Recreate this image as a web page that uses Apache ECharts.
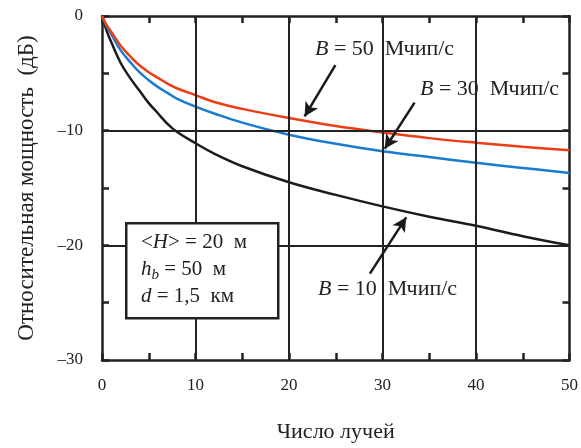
<!DOCTYPE html>
<html><head><meta charset="utf-8">
<script src="https://cdn.jsdelivr.net/npm/echarts@6/dist/echarts.min.js"></script>
<style>html,body{margin:0;padding:0;background:#fff}#c{width:581px;height:448px}</style>
</head><body><div id="c"></div>
<script>
var xs     = [0, 0.5, 1, 2, 3, 4, 5, 6, 7, 8, 10, 12, 15, 20, 25, 30, 35, 40, 45, 50];
var b10    = [0, -1.3, -2.3, -4.1, -5.4, -6.5, -7.6, -8.5, -9.4, -10.1, -11.1, -12.0, -13.1, -14.5, -15.6, -16.6, -17.5, -18.3, -19.2, -20.0];
var b30    = [0, -0.9, -1.6, -3.0, -4.0, -4.9, -5.6, -6.2, -6.7, -7.2, -7.9, -8.5, -9.3, -10.35, -11.15, -11.8, -12.3, -12.8, -13.25, -13.7];
var b50    = [0, -0.8, -1.4, -2.6, -3.5, -4.3, -4.9, -5.4, -5.9, -6.3, -6.9, -7.5, -8.1, -8.9, -9.6, -10.15, -10.65, -11.05, -11.4, -11.7];
var xGrid  = [10, 20, 30, 40];
var yGrid  = [-10, -20];
var arrows = [
  [[24.96, -4.29], [21.67, -8.76]],
  [[33.43, -7.55], [30.24, -11.58]],
  [[28.65, -22.47], [32.54, -17.56]]
];
var xName = 'Число лучей';
var yName = 'Относительная мощность  (дБ)';

function pairs(v){ return xs.map(function(x,i){ return [x, v[i]]; }); }
var FONT = '"Liberation Serif", "Times New Roman", serif';
var INK = '#222';
var chart = echarts.init(document.getElementById('c'));
function major(v){ return v % 10 === 0 ? String(v).replace('-', '–') : ''; }
var baseAxis = {
  type: 'value', min: 0, max: 50, interval: 5,
  axisLine: {show: true, onZero: false, lineStyle: {color: INK, width: 2.5}},
  axisTick: {show: true, inside: true, length: 7, lineStyle: {color: INK, width: 2.5}},
  splitLine: {show: false},
  axisLabel: {show: false}
};
var labelStyle = {color: INK, fontFamily: FONT, fontSize: 17, formatter: major, showMinLabel: true, showMaxLabel: true};
chart.setOption({
  animation: false,
  grid: {left: 102, right: 8, top: 16, bottom: 86, containLabel: false},
  xAxis: [
    Object.assign({}, baseAxis, {
      position: 'bottom',
      axisLabel: Object.assign({}, labelStyle, {margin: 17}),
      name: xName, nameLocation: 'middle', nameGap: 61,
      nameTextStyle: {color: INK, fontFamily: FONT, fontSize: 22}
    }),
    Object.assign({}, baseAxis, {position: 'top'})
  ],
  yAxis: [
    Object.assign({}, baseAxis, {
      min: -30, max: 0, position: 'left',
      axisLabel: Object.assign({}, labelStyle, {margin: 19, padding: [4, 0, 0, 0]}),
      name: yName, nameLocation: 'middle', nameGap: 64,
      nameTextStyle: {color: INK, fontFamily: FONT, fontSize: 23}
    }),
    Object.assign({}, baseAxis, {min: -30, max: 0, position: 'right'})
  ],
  series: [
    {type: 'line', data: [], silent: true,
      markLine: {
        silent: true, symbol: ['none', 'none'], label: {show: false},
        lineStyle: {color: INK, width: 2, type: 'solid'},
        data: xGrid.map(function(v){ return {xAxis: v}; }).concat(yGrid.map(function(v){ return {yAxis: v}; }))
      }, z: 1},
    {type: 'line', data: pairs(b10), smooth: 0.4, showSymbol: false, lineStyle: {color: '#1c1c1c', width: 2.5}, z: 3},
    {type: 'line', data: pairs(b30), smooth: 0.4, showSymbol: false, lineStyle: {color: '#1a7bd0', width: 2.5}, z: 3},
    {type: 'line', data: pairs(b50), smooth: 0.4, showSymbol: false, lineStyle: {color: '#ec3e14', width: 2.5}, z: 3,
      markLine: {
        silent: true, symbol: ['none', 'arrow'], symbolSize: [11, 14],
        label: {show: false},
        lineStyle: {color: '#1a1a1a', width: 2.5, type: 'solid'},
        data: arrows.map(function(a){ return [{coord: a[0]}, {coord: a[1]}]; })
      }
    }
  ],
  graphic: [
    {type: 'rect', left: 125, top: 222, shape: {width: 152, height: 95},
      style: {fill: '#fff', stroke: INK, lineWidth: 2.5}, z: 10},
    {type: 'text', left: 141, top: 229, z: 11, style: {
      text: '<{i|H}> = 20  м\n{i|h}{s|b} = 50  м\n{i|d} = 1,5  км',
      font: '21px ' + FONT, fill: INK, lineHeight: 27,
      rich: {i: {fontStyle: 'italic', fontSize: 21, fontFamily: FONT},
             s: {fontStyle: 'italic', fontSize: 15, fontFamily: FONT, padding: [12, 0, 0, 0]}}
    }},
    {type: 'text', left: 315, top: 38, z: 11, style: {
      text: '{i|B} = 50  Мчип/с', font: '22px ' + FONT, fill: INK,
      rich: {i: {fontStyle: 'italic', fontSize: 22, fontFamily: FONT}}}},
    {type: 'text', left: 420, top: 78, z: 11, style: {
      text: '{i|B} = 30  Мчип/с', font: '22px ' + FONT, fill: INK,
      rich: {i: {fontStyle: 'italic', fontSize: 22, fontFamily: FONT}}}},
    {type: 'text', left: 318, top: 278, z: 11, style: {
      text: '{i|B} = 10  Мчип/с', font: '22px ' + FONT, fill: INK,
      rich: {i: {fontStyle: 'italic', fontSize: 22, fontFamily: FONT}}}}
  ]
});
</script></body></html>
